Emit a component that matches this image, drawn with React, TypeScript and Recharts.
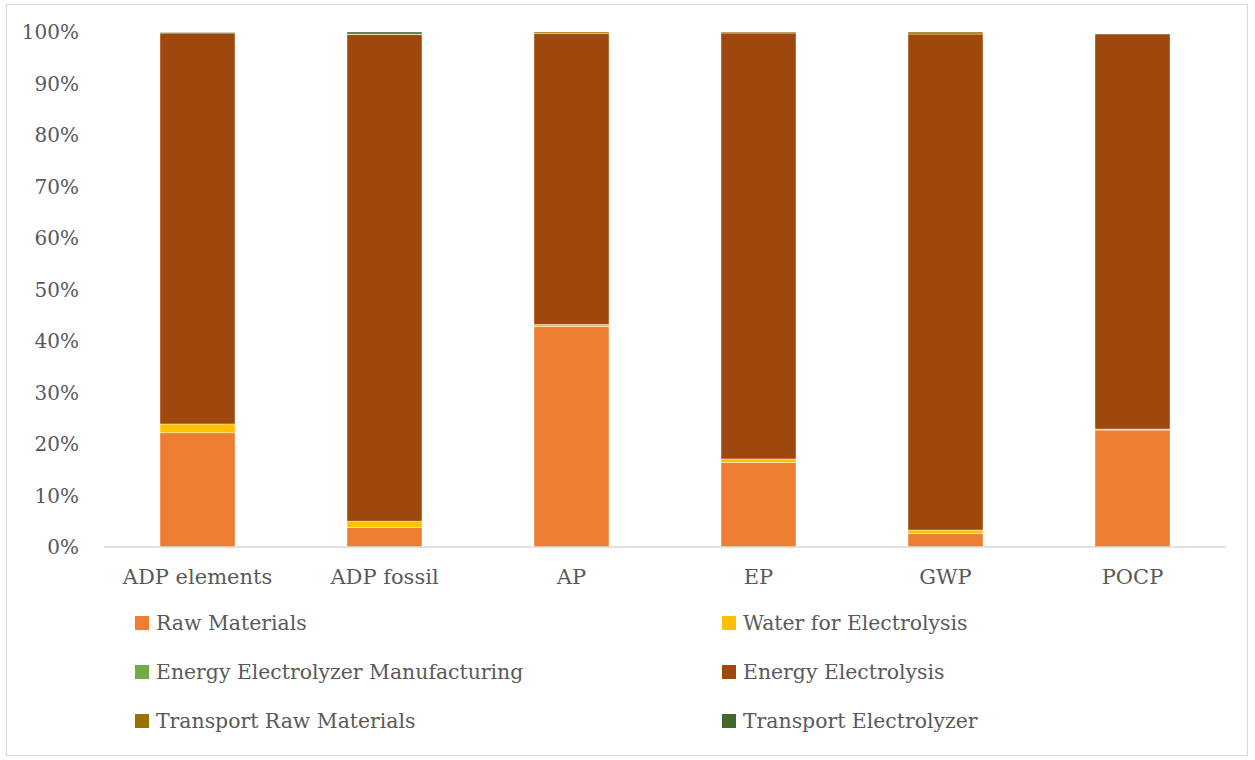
import { BarChart, Bar, XAxis, YAxis, Legend } from "recharts";

const categories = ["ADP elements", "ADP fossil", "AP", "EP", "GWP", "POCP"];

// shares per impact category, in percent
const rawMaterials = [22.2, 3.8, 42.8, 16.4, 2.6, 22.7];
const waterForElectrolysis = [1.7, 1.2, 0.4, 0.7, 0.7, 0.2];
const energyElectrolyzerManufacturing = [0, 0, 0, 0, 0, -0.4];
const energyElectrolysis = [75.9, 94.5, 56.5, 82.7, 96.3, 76.7];
const transportRawMaterials = [0.1, 0.1, 0.3, 0.2, 0.4, 0];
const transportElectrolyzer = [0.1, 0.4, 0, 0, 0, 0];

const yTicks = [0, 10, 20, 30, 40, 50, 60, 70, 80, 90, 100];

const series = [
  { key: "raw", name: "Raw Materials", color: "#ED7D31", values: rawMaterials },
  { key: "water", name: "Water for Electrolysis", color: "#FFC000", values: waterForElectrolysis },
  { key: "eem", name: "Energy Electrolyzer Manufacturing", color: "#70AD47", values: energyElectrolyzerManufacturing },
  { key: "energy", name: "Energy Electrolysis", color: "#9E480E", values: energyElectrolysis },
  { key: "trm", name: "Transport Raw Materials", color: "#997300", values: transportRawMaterials },
  { key: "te", name: "Transport Electrolyzer", color: "#43682B", values: transportElectrolyzer },
];

const data = categories.map((name, i) => {
  const row: Record<string, string | number> = { name };
  series.forEach((s) => {
    row[s.key] = s.values[i];
  });
  return row;
});

const FONT = "'DejaVu Serif', serif";
const TEXT = "#595959";

// two-column legend, kept in series order
function LegendGrid() {
  return (
    <div
      style={{
        display: "grid",
        gridTemplateColumns: "587px 400px",
        rowGap: 23,
        fontFamily: FONT,
        fontSize: 20.4,
        color: TEXT,
      }}
    >
      {series.map((s) => (
        <div key={s.key} style={{ display: "flex", alignItems: "center", height: 26 }}>
          <span
            style={{
              display: "inline-block",
              width: 14,
              height: 14,
              background: s.color,
              marginRight: 7,
            }}
          />
          <span>{s.name}</span>
        </div>
      ))}
    </div>
  );
}

export default function App() {
  return (
    <div
      style={{
        position: "absolute",
        left: 6,
        top: 4,
        width: 1240,
        height: 750,
        border: "1px solid #d9d9d9",
        background: "#fff",
      }}
    >
      <BarChart
        width={1240}
        height={750}
        data={data}
        stackOffset="sign"
        barSize={75}
        margin={{ top: 27, right: 21, left: 0, bottom: 24 }}
      >
        <XAxis
          dataKey="name"
          axisLine={{ stroke: "#d9d9d9", strokeWidth: 1.5 }}
          tickLine={false}
          tickSize={0}
          tickMargin={22}
          height={60}
          tick={{ fill: TEXT, fontFamily: FONT, fontSize: 21 }}
        />
        <YAxis
          type="number"
          domain={[0, 100]}
          ticks={yTicks}
          allowDataOverflow
          axisLine={false}
          tickLine={false}
          tickSize={0}
          tickMargin={25}
          width={97}
          tickFormatter={(v: number) => `${v}%`}
          tick={{ fill: TEXT, fontFamily: FONT, fontSize: 20 }}
        />
        <Legend
          verticalAlign="bottom"
          content={<LegendGrid />}
          wrapperStyle={{ left: 128, top: 605, width: 1000 }}
        />
        {series.map((s) => (
          <Bar
            key={s.key}
            dataKey={s.key}
            name={s.name}
            stackId="a"
            fill={s.color}
            stroke="#ffffff"
            strokeOpacity={0.5}
            strokeWidth={0.8}
            isAnimationActive={false}
          />
        ))}
      </BarChart>
    </div>
  );
}
